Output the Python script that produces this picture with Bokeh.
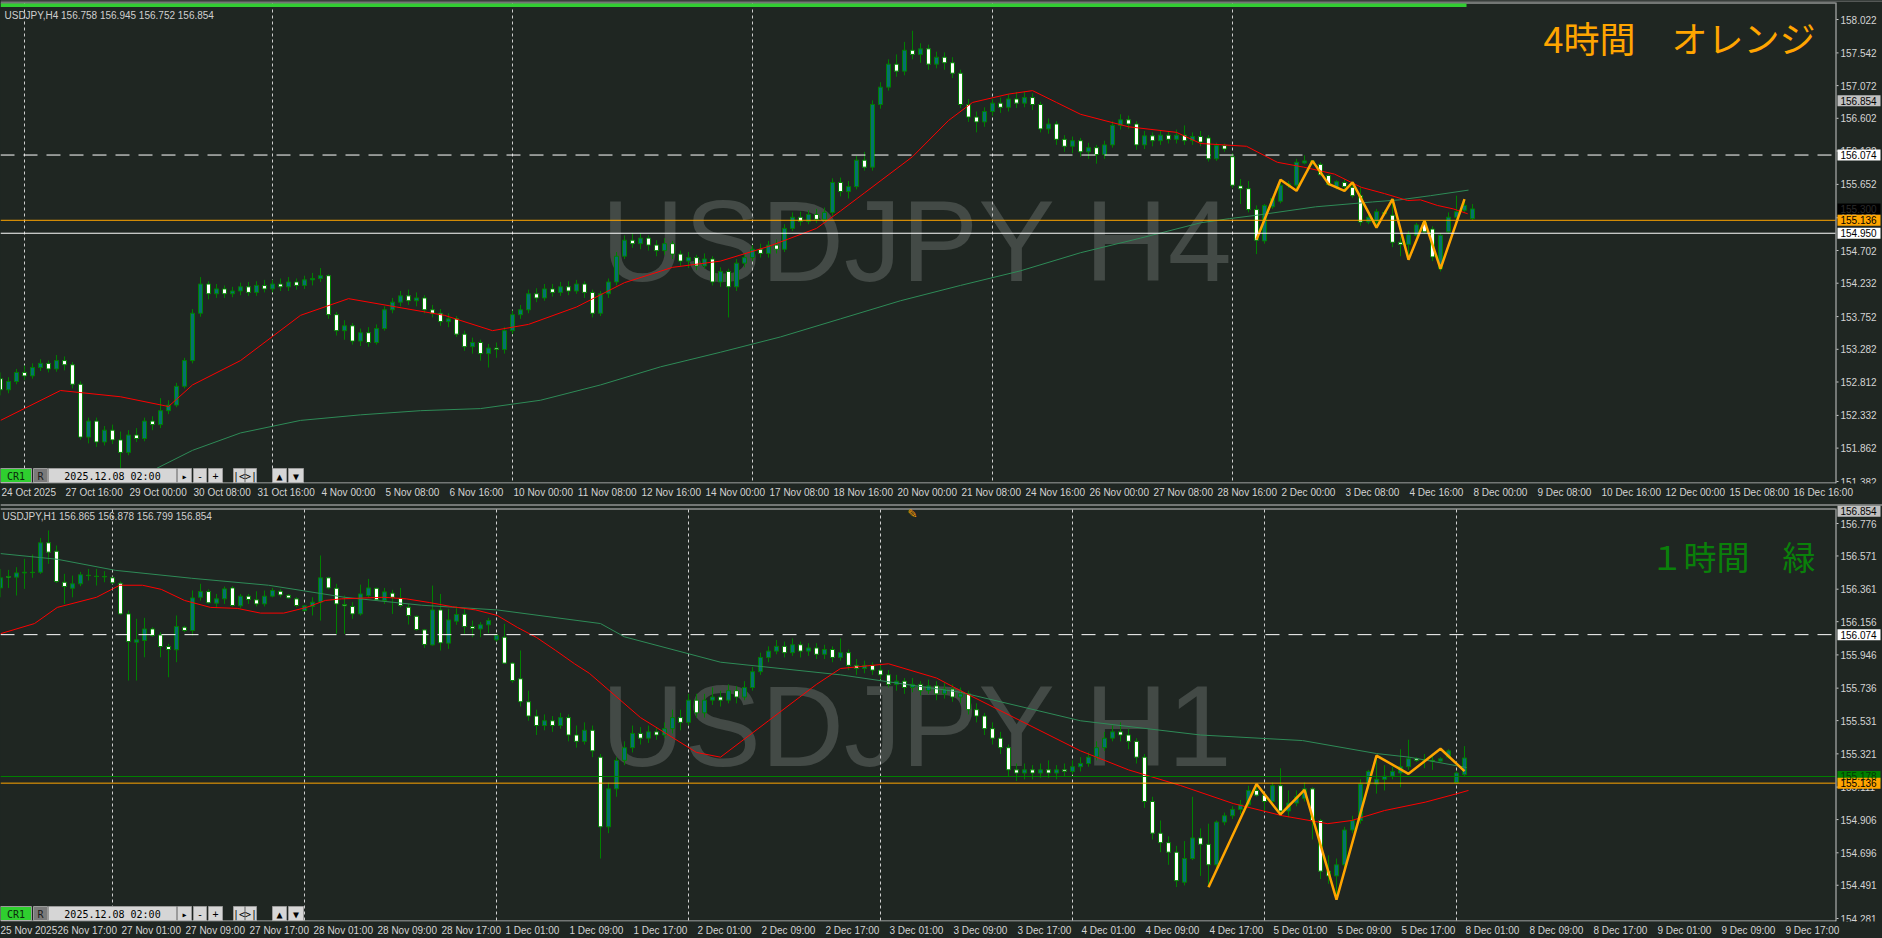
from bokeh.plotting import figure
from bokeh.models import Range1d, FixedTicker, Span, ColumnDataSource
from bokeh.layouts import column
from bokeh.embed import file_html
from bokeh.resources import INLINE
from bokeh.core.properties import value

BG = "#1f2622"
AX = "#c8c8c8"
TXT = "#d4d4d4"
FONT = "Liberation Sans"
CJK = "Noto Sans CJK JP"
WICK = "#008000"
BULL = "#067070"
BEAR = "#ffffff"

# ================= H4 (USDJPY,H4) bars 0..184, bar 0 = 24 Oct 12:00 =================
h4_open = [152.86, 152.70, 152.82, 152.95, 152.90, 153.02, 153.08, 153.00, 153.12, 153.06,
           152.78, 152.02, 152.25, 151.95, 152.12, 151.98, 151.80, 152.05, 152.00, 152.25,
           152.20, 152.40, 152.48, 152.75, 153.12, 153.80, 154.22, 154.08, 154.15, 154.08,
           154.12, 154.18, 154.10, 154.20, 154.15, 154.22, 154.18, 154.25, 154.20, 154.28,
           154.30, 154.34, 153.78, 153.55, 153.62, 153.40, 153.52, 153.38, 153.58, 153.85,
           153.96, 154.05, 153.98, 154.02, 153.85, 153.80, 153.68, 153.72, 153.50, 153.32,
           153.38, 153.22, 153.30, 153.28, 153.55, 153.78, 153.85, 154.08, 154.02, 154.15,
           154.10, 154.18, 154.12, 154.22, 154.10, 153.80, 154.08, 154.25, 154.62, 154.85,
           154.80, 154.88, 154.78, 154.70, 154.80, 154.65, 154.55, 154.60, 154.48, 154.58,
           154.25, 154.40, 154.18, 154.52, 154.60, 154.72, 154.66, 154.78, 154.72, 155.02,
           155.18, 155.12, 155.22, 155.15, 155.25, 155.68, 155.55, 155.62, 156.00, 155.90,
           156.80, 157.05, 157.38, 157.28, 157.58, 157.52, 157.60, 157.38, 157.48, 157.40,
           157.25, 156.80, 156.62, 156.55, 156.70, 156.82, 156.76, 156.88, 156.82, 156.90,
           156.80, 156.45, 156.52, 156.30, 156.20, 156.28, 156.12, 156.18, 156.08, 156.22,
           156.50, 156.58, 156.52, 156.22, 156.35, 156.28, 156.36, 156.30, 156.36, 156.28,
           156.34, 156.32, 156.02, 156.21, 156.05, 155.63, 155.59, 155.29, 154.84, 155.33,
           155.41, 155.64, 155.64, 155.96, 155.99, 155.94, 155.78, 155.61, 155.68, 155.61,
           155.49, 155.11, 155.12, 155.25, 155.21, 154.82, 154.79, 154.92, 155.10, 155.01,
           154.44, 154.97, 155.18, 155.28, 155.16]
h4_high = [152.95, 152.88, 153.00, 153.05, 153.08, 153.14, 153.12, 153.20, 153.18, 153.10,
           152.82, 152.30, 152.30, 152.18, 152.20, 152.10, 152.12, 152.15, 152.30, 152.32,
           152.58, 152.55, 152.80, 153.16, 153.86, 154.32, 154.26, 154.22, 154.20, 154.18,
           154.24, 154.25, 154.26, 154.28, 154.28, 154.30, 154.32, 154.30, 154.34, 154.38,
           154.45, 154.36, 153.82, 153.70, 153.66, 153.58, 153.60, 153.64, 153.90, 154.02,
           154.12, 154.14, 154.10, 154.06, 153.92, 153.86, 153.80, 153.76, 153.55, 153.45,
           153.42, 153.36, 153.38, 153.60, 153.84, 153.92, 154.14, 154.16, 154.22, 154.22,
           154.25, 154.26, 154.28, 154.26, 154.14, 154.12, 154.30, 154.68, 154.92, 154.95,
           154.95, 154.92, 154.85, 154.88, 154.84, 154.70, 154.68, 154.64, 154.66, 154.62,
           154.46, 154.44, 154.58, 154.66, 154.78, 154.80, 154.84, 154.86, 155.08, 155.25,
           155.26, 155.28, 155.30, 155.32, 155.74, 155.75, 155.70, 156.06, 156.12, 156.86,
           157.12, 157.45, 157.52, 157.70, 157.86, 157.68, 157.66, 157.56, 157.55, 157.48,
           157.30, 156.88, 156.70, 156.76, 156.88, 156.90, 156.95, 156.98, 156.98, 156.96,
           156.84, 156.60, 156.56, 156.36, 156.34, 156.32, 156.25, 156.22, 156.28, 156.56,
           156.66, 156.64, 156.56, 156.42, 156.40, 156.42, 156.42, 156.44, 156.50, 156.40,
           156.42, 156.36, 156.25, 156.24, 156.10, 155.73, 155.70, 155.35, 155.37, 155.48,
           155.72, 155.70, 156.02, 156.07, 156.00, 155.97, 155.80, 155.71, 155.73, 155.68,
           155.61, 155.22, 155.30, 155.28, 155.44, 154.90, 154.98, 155.10, 155.13, 155.05,
           154.95, 155.25, 155.49, 155.44, 155.37]
h4_low = [152.62, 152.65, 152.78, 152.84, 152.86, 152.97, 152.95, 152.96, 152.98, 152.72,
          151.98, 151.93, 151.88, 151.90, 151.92, 151.57, 151.76, 151.95, 151.96, 152.12,
          152.15, 152.35, 152.45, 152.72, 153.08, 153.75, 154.00, 154.02, 154.02, 154.03,
          154.06, 154.05, 154.05, 154.10, 154.10, 154.12, 154.12, 154.14, 154.15, 154.20,
          154.25, 153.72, 153.48, 153.42, 153.35, 153.33, 153.32, 153.35, 153.55, 153.80,
          153.90, 153.92, 153.90, 153.80, 153.74, 153.62, 153.60, 153.46, 153.26, 153.22,
          153.12, 153.02, 153.16, 153.22, 153.50, 153.72, 153.80, 153.96, 153.98, 154.04,
          154.05, 154.06, 154.08, 154.02, 153.74, 153.76, 154.02, 154.20, 154.58, 154.74,
          154.72, 154.70, 154.62, 154.64, 154.58, 154.48, 154.45, 154.42, 154.44, 154.20,
          154.18, 153.74, 154.12, 154.46, 154.55, 154.60, 154.60, 154.66, 154.68, 154.98,
          155.06, 155.08, 155.10, 155.10, 155.20, 155.48, 155.45, 155.58, 155.85, 155.85,
          156.74, 157.00, 157.20, 157.22, 157.45, 157.40, 157.30, 157.32, 157.30, 157.18,
          156.75, 156.55, 156.40, 156.48, 156.64, 156.68, 156.70, 156.75, 156.76, 156.72,
          156.40, 156.38, 156.22, 156.12, 156.10, 156.05, 156.02, 155.95, 156.02, 156.18,
          156.44, 156.45, 156.15, 156.16, 156.20, 156.22, 156.24, 156.24, 156.22, 156.22,
          156.20, 155.98, 155.99, 156.12, 155.60, 155.37, 155.25, 154.65, 154.80, 155.30,
          155.38, 155.60, 155.56, 155.94, 155.93, 155.77, 155.63, 155.58, 155.56, 155.46,
          155.06, 155.08, 155.03, 155.20, 154.75, 154.62, 154.57, 154.90, 154.94, 154.55,
          154.40, 154.95, 155.15, 155.25, 155.14]
h4_close = [152.70, 152.82, 152.95, 152.90, 153.02, 153.08, 153.00, 153.12, 153.06, 152.78,
            152.02, 152.25, 151.95, 152.12, 151.98, 151.80, 152.05, 152.00, 152.25, 152.20,
            152.40, 152.48, 152.75, 153.12, 153.80, 154.22, 154.08, 154.15, 154.08, 154.12,
            154.18, 154.10, 154.20, 154.15, 154.22, 154.18, 154.25, 154.20, 154.28, 154.30,
            154.34, 153.78, 153.55, 153.62, 153.40, 153.52, 153.38, 153.58, 153.85, 153.96,
            154.05, 153.98, 154.02, 153.85, 153.80, 153.68, 153.72, 153.50, 153.32, 153.38,
            153.22, 153.30, 153.28, 153.55, 153.78, 153.85, 154.08, 154.02, 154.15, 154.10,
            154.18, 154.12, 154.22, 154.10, 153.80, 154.08, 154.25, 154.62, 154.85, 154.80,
            154.88, 154.78, 154.70, 154.80, 154.65, 154.55, 154.60, 154.48, 154.58, 154.25,
            154.40, 154.18, 154.52, 154.60, 154.72, 154.66, 154.78, 154.72, 155.02, 155.18,
            155.12, 155.22, 155.15, 155.25, 155.68, 155.55, 155.62, 156.00, 155.90, 156.80,
            157.05, 157.38, 157.28, 157.58, 157.52, 157.60, 157.38, 157.48, 157.40, 157.25,
            156.80, 156.62, 156.55, 156.70, 156.82, 156.76, 156.88, 156.82, 156.90, 156.80,
            156.45, 156.52, 156.30, 156.20, 156.28, 156.12, 156.18, 156.08, 156.22, 156.50,
            156.58, 156.52, 156.22, 156.35, 156.28, 156.36, 156.30, 156.36, 156.28, 156.34,
            156.26, 156.02, 156.21, 156.16, 155.64, 155.59, 155.29, 154.85, 155.35, 155.45,
            155.64, 155.66, 155.97, 155.99, 155.97, 155.79, 155.65, 155.69, 155.62, 155.49,
            155.11, 155.18, 155.26, 155.23, 154.82, 154.79, 154.93, 155.07, 154.97, 154.61,
            154.92, 155.18, 155.26, 155.35, 155.30]

h4_red_x = [0, 7.5, 15, 21, 24, 30, 37.5, 43.5, 49.5, 55.5, 61.5, 66, 72, 78, 84, 90, 96, 102, 105, 108,
            114, 118.5, 121.5, 126, 129, 132, 135, 141, 147, 150, 155.75, 159.6, 162.9, 166.75, 170.1,
            173, 175.9, 177.5, 179.6, 181.6, 183.4]
h4_red_y = [152.26, 152.69, 152.60, 152.46, 152.77, 153.12, 153.77, 154.01, 153.89, 153.77, 153.55,
            153.64, 153.89, 154.24, 154.46, 154.55, 154.76, 155.02, 155.27, 155.53, 156.05, 156.57,
            156.83, 156.95, 157.00, 156.83, 156.66, 156.48, 156.40, 156.24, 156.20, 155.97, 155.90,
            155.80, 155.61, 155.52, 155.42, 155.43, 155.35, 155.30, 155.23]
h4_green_x = [19.5, 24, 30, 37.5, 45, 52.5, 60, 67.5, 75, 82.5, 90, 97.5, 105, 112.5, 120, 127.5, 135,
              142.5, 150, 153.6, 157.1, 164.4, 171.5, 174.9, 178.75, 183.5]
h4_green_y = [151.57, 151.83, 152.08, 152.26, 152.34, 152.40, 152.43, 152.55, 152.77, 153.03, 153.24,
              153.46, 153.72, 153.98, 154.20, 154.41, 154.67, 154.88, 155.10, 155.16, 155.21, 155.33,
              155.40, 155.43, 155.49, 155.57]
h4_zz_x = [157, 160, 162, 164, 166, 168, 169, 172, 174, 176, 178, 180, 183]
h4_zz_y = [154.86, 155.72, 155.56, 155.99, 155.66, 155.56, 155.68, 155.03, 155.44, 154.57, 155.13,
           154.44, 155.44]
h4_yticks = [158.022, 157.542, 157.072, 156.602, 156.132, 155.652, 155.172, 154.702, 154.232,
             153.752, 153.282, 152.812, 152.332, 151.862, 151.382]
h4_xtick_bars = [0, 8, 16, 24, 32, 40, 48, 56, 64, 72, 80, 88, 96, 104, 112, 120, 128, 136, 144, 152,
                 160, 168, 176, 184, 192, 200, 208, 216, 224]
h4_xtick_labels = ["24 Oct 2025", "27 Oct 16:00", "29 Oct 00:00", "30 Oct 08:00", "31 Oct 16:00",
                   "4 Nov 00:00", "5 Nov 08:00", "6 Nov 16:00", "10 Nov 00:00", "11 Nov 08:00",
                   "12 Nov 16:00", "14 Nov 00:00", "17 Nov 08:00", "18 Nov 16:00", "20 Nov 00:00",
                   "21 Nov 08:00", "24 Nov 16:00", "26 Nov 00:00", "27 Nov 08:00", "28 Nov 16:00",
                   "2 Dec 00:00", "3 Dec 08:00", "4 Dec 16:00", "8 Dec 00:00", "9 Dec 08:00",
                   "10 Dec 16:00", "12 Dec 00:00", "15 Dec 08:00", "16 Dec 16:00"]
h4_separators = [3, 34, 64, 94, 124, 154]
h4_hlines = [156.074, 155.136, 154.950]
h4_hline_colors = ["#ffffff", "#ffa500", "#ffffff"]
h4_hline_dash = ["14 9", "solid", "solid"]
h4_tag_prices = [156.854, 156.074, 155.300, 155.136, 154.950]
h4_tag_texts = ["156.854", "156.074", "155.300", "155.136", "154.950"]
h4_tag_bg = ["#c0c0c0", "#ffffff", "#000000", "#ffa500", "#ffffff"]
h4_tag_fg = ["#000000", "#000000", "#2a2a2a", "#000000", "#000000"]

# ================= H1 (USDJPY,H1) bars 0..183, bar 0 = 26 Nov 10:00 =================
h1_open = [156.369, 156.441, 156.437, 156.464, 156.468, 156.468, 156.654, 156.601, 156.405, 156.367,
           156.395, 156.449, 156.443, 156.441, 156.433, 156.399, 156.205, 156.026, 156.037, 156.110,
           156.072, 155.999, 155.978, 156.121, 156.100, 156.310, 156.346, 156.273, 156.300, 156.369,
           156.256, 156.317, 156.294, 156.268, 156.317, 156.348, 156.323, 156.300, 156.226, 156.252,
           156.279, 156.433, 156.367, 156.264, 156.252, 156.205, 156.321, 156.367, 156.289, 156.336,
           156.304, 156.247, 156.190, 156.104, 156.009, 156.230, 156.020, 156.159, 156.203, 156.125,
           156.110, 156.136, 156.041, 156.058, 155.894, 155.795,
           155.65, 155.56, 155.50, 155.53, 155.50, 155.55, 155.44, 155.40, 155.47, 155.30,
           154.86, 155.10, 155.28, 155.36, 155.45, 155.42, 155.46, 155.44, 155.48, 155.55,
           155.52, 155.66, 155.58, 155.66, 155.68, 155.66, 155.72, 155.68, 155.74, 155.84,
           155.93, 155.97, 156.00, 155.96, 156.01, 155.97, 155.99, 155.95, 155.98, 155.93,
           155.96, 155.88, 155.86, 155.88, 155.85, 155.82, 155.76, 155.78, 155.74, 155.76,
           155.72, 155.75, 155.70, 155.73, 155.68, 155.70, 155.60, 155.56, 155.48, 155.42,
           155.36, 155.22, 155.20, 155.22, 155.20, 155.22, 155.20, 155.22, 155.21, 155.24,
           155.26, 155.30, 155.36, 155.42, 155.46, 155.44, 155.40, 155.30, 155.02, 154.82,
           154.76, 154.70,
           154.51, 154.66, 154.79, 154.75, 154.62, 154.89, 154.93, 154.97, 155.00, 155.09,
           155.06, 155.02, 155.12, 154.96, 155.01, 155.04, 155.10, 154.90, 154.58, 154.55,
           154.62, 154.84, 154.90, 155.13, 155.13, 155.16, 155.18, 155.20, 155.24, 155.29,
           155.28, 155.28, 155.275, 155.30, 155.14, 155.19]
h1_high = [156.489, 156.483, 156.500, 156.553, 156.580, 156.685, 156.732, 156.637, 156.458, 156.447,
           156.470, 156.489, 156.489, 156.475, 156.440, 156.410, 156.226, 156.174, 156.180, 156.120,
           156.089, 156.016, 156.195, 156.130, 156.353, 156.395, 156.360, 156.331, 156.378, 156.380,
           156.331, 156.331, 156.348, 156.353, 156.369, 156.361, 156.330, 156.310, 156.260, 156.310,
           156.574, 156.440, 156.395, 156.321, 156.279, 156.390, 156.426, 156.370, 156.369, 156.357,
           156.369, 156.268, 156.195, 156.110, 156.384, 156.331, 156.237, 156.252, 156.237, 156.163,
           156.153, 156.180, 156.080, 156.142, 155.900, 155.974,
           155.72, 155.60, 155.57, 155.56, 155.58, 155.57, 155.50, 155.52, 155.50, 155.32,
           155.14, 155.30, 155.40, 155.50, 155.49, 155.50, 155.49, 155.52, 155.60, 155.60,
           155.70, 155.70, 155.70, 155.74, 155.72, 155.76, 155.75, 155.78, 155.87, 155.96,
           156.00, 156.04, 156.03, 156.05, 156.03, 156.02, 156.02, 156.01, 156.00, 156.05,
           155.98, 155.92, 155.91, 155.90, 155.88, 155.85, 155.82, 155.80, 155.80, 155.78,
           155.79, 155.78, 155.77, 155.76, 155.74, 155.72, 155.64, 155.58, 155.52, 155.46,
           155.38, 155.26, 155.26, 155.25, 155.26, 155.28, 155.25, 155.26, 155.28, 155.30,
           155.33, 155.40, 155.46, 155.50, 155.52, 155.48, 155.42, 155.32, 155.05, 154.90,
           154.80, 154.74,
           154.77, 155.05, 154.85, 154.88, 154.90, 154.95, 154.99, 155.03, 155.12, 155.13,
           155.07, 155.14, 155.23, 155.09, 155.09, 155.14, 155.11, 154.91, 154.68, 154.66,
           154.86, 154.93, 155.16, 155.22, 155.31, 155.25, 155.24, 155.35, 155.41, 155.30,
           155.32, 155.31, 155.30, 155.35, 155.21, 155.37]
h1_low = [156.310, 156.369, 156.321, 156.363, 156.433, 156.458, 156.521, 156.400, 156.268, 156.310,
          156.380, 156.416, 156.384, 156.405, 156.395, 156.200, 155.784, 155.784, 155.931, 156.060,
          155.931, 155.805, 155.900, 156.090, 156.068, 156.289, 156.270, 156.243, 156.268, 156.250,
          156.243, 156.268, 156.252, 156.252, 156.310, 156.310, 156.300, 156.247, 156.220, 156.195,
          156.163, 156.360, 156.079, 156.079, 156.174, 156.195, 156.310, 156.290, 156.268, 156.205,
          156.247, 156.138, 156.100, 155.990, 156.005, 155.974, 155.984, 156.136, 156.079, 156.058,
          156.058, 156.083, 156.030, 155.889, 155.770, 155.620,
          155.53, 155.44, 155.47, 155.46, 155.48, 155.40, 155.36, 155.38, 155.30, 154.66,
          154.82, 155.05, 155.25, 155.33, 155.38, 155.39, 155.41, 155.42, 155.45, 155.47,
          155.50, 155.55, 155.55, 155.63, 155.62, 155.64, 155.64, 155.66, 155.72, 155.82,
          155.90, 155.95, 155.93, 155.94, 155.93, 155.94, 155.92, 155.92, 155.90, 155.91,
          155.85, 155.82, 155.83, 155.82, 155.79, 155.74, 155.72, 155.70, 155.71, 155.69,
          155.70, 155.66, 155.67, 155.65, 155.64, 155.57, 155.52, 155.44, 155.38, 155.32,
          155.18, 155.15, 155.16, 155.16, 155.17, 155.17, 155.16, 155.18, 155.19, 155.21,
          155.24, 155.28, 155.34, 155.40, 155.40, 155.35, 155.26, 154.98, 154.78, 154.70,
          154.62, 154.48,
          154.49, 154.65, 154.55, 154.48, 154.60, 154.87, 154.91, 154.94, 154.98, 155.05,
          154.96, 155.00, 154.94, 154.92, 154.99, 155.02, 154.78, 154.53, 154.50, 154.40,
          154.59, 154.82, 154.88, 155.10, 155.07, 155.09, 155.16, 155.11, 155.22, 155.27,
          155.23, 155.22, 155.27, 155.29, 155.13, 155.18]
h1_close = [156.433, 156.437, 156.464, 156.468, 156.466, 156.654, 156.595, 156.409, 156.378, 156.395,
            156.452, 156.447, 156.441, 156.439, 156.401, 156.205, 156.030, 156.041, 156.110, 156.068,
            155.999, 155.980, 156.125, 156.100, 156.306, 156.346, 156.275, 156.300, 156.363, 156.258,
            156.317, 156.296, 156.268, 156.317, 156.353, 156.325, 156.306, 156.258, 156.256, 156.279,
            156.433, 156.369, 156.268, 156.256, 156.205, 156.331, 156.369, 156.294, 156.344, 156.310,
            156.258, 156.195, 156.106, 156.012, 156.230, 156.022, 156.167, 156.201, 156.125, 156.112,
            156.136, 156.163, 156.068, 155.894, 155.784, 155.650,
            155.56, 155.50, 155.53, 155.50, 155.55, 155.44, 155.40, 155.47, 155.34, 154.86,
            155.10, 155.28, 155.36, 155.45, 155.42, 155.46, 155.44, 155.48, 155.55, 155.52,
            155.66, 155.58, 155.66, 155.68, 155.66, 155.72, 155.68, 155.74, 155.84, 155.93,
            155.97, 156.00, 155.96, 156.01, 155.97, 155.99, 155.95, 155.98, 155.93, 155.96,
            155.88, 155.86, 155.88, 155.85, 155.82, 155.76, 155.78, 155.74, 155.76, 155.72,
            155.75, 155.70, 155.73, 155.68, 155.70, 155.60, 155.56, 155.48, 155.42, 155.36,
            155.22, 155.20, 155.22, 155.20, 155.22, 155.20, 155.22, 155.21, 155.24, 155.26,
            155.30, 155.36, 155.42, 155.46, 155.44, 155.40, 155.30, 155.02, 154.82, 154.76,
            154.70, 154.52,
            154.66, 154.79, 154.75, 154.62, 154.89, 154.93, 154.97, 155.00, 155.09, 155.06,
            155.02, 155.12, 154.96, 155.01, 155.05, 155.10, 154.90, 154.58, 154.55, 154.62,
            154.84, 154.90, 155.13, 155.21, 155.16, 155.18, 155.21, 155.24, 155.29, 155.28,
            155.28, 155.275, 155.29, 155.34, 155.20, 155.295]

h1_red_x = [0, 4.25, 7.1, 12, 14.9, 17.75, 20.1, 23, 26.25, 29.6, 32.5, 35.4, 38.25, 40.6, 42.6, 47.9,
            50.75, 53.6, 56.5, 59.4, 62.1, 64.6, 67, 69.4, 71.75, 73.6, 80, 87, 90, 96, 102, 105, 111,
            117, 120, 127.5, 135, 141, 147.5, 154.1, 160.25, 165.9, 168.9, 173, 178.1, 182.1, 183.5]
h1_red_y = [156.08, 156.144, 156.246, 156.31, 156.386, 156.386, 156.36, 156.29, 156.246, 156.24, 156.21,
            156.21, 156.246, 156.29, 156.30, 156.31, 156.30, 156.277, 156.25, 156.23, 156.195, 156.12,
            156.056, 155.974, 155.89, 155.83, 155.55, 155.33, 155.30, 155.53, 155.76, 155.86, 155.89,
            155.80, 155.72, 155.53, 155.34, 155.22, 155.121, 155.007, 154.93, 154.88, 154.90, 154.963,
            155.016, 155.07, 155.09]
h1_green_x = [0, 7.1, 14.4, 23.9, 33.5, 43, 52.6, 62.1, 75, 78, 90, 105, 120, 135, 150, 162.75, 172,
              176.1, 183.25]
h1_green_y = [156.586, 156.55, 156.48, 156.43, 156.386, 156.31, 156.26, 156.23, 156.144, 156.06, 155.90,
              155.82, 155.71, 155.53, 155.44, 155.405, 155.323, 155.30, 155.235]
h1_zz_x = [151, 157, 160, 163, 167, 172, 176, 180, 183]
h1_zz_y = [154.479, 155.13, 154.938, 155.094, 154.40, 155.31, 155.195, 155.353, 155.212]
h1_yticks = [156.776, 156.571, 156.361, 156.156, 155.946, 155.736, 155.531, 155.321, 155.111, 154.906,
             154.696, 154.491, 154.281]
h1_xtick_bars = [-0.75, 7, 15, 23, 31, 39, 47, 55, 63, 71, 79, 87, 95, 103, 111, 119, 127, 135, 143, 151,
                 159, 167, 175, 183, 191, 199, 207, 215, 223]
h1_xtick_labels = ["25 Nov 2025", "26 Nov 17:00", "27 Nov 01:00", "27 Nov 09:00", "27 Nov 17:00",
                   "28 Nov 01:00", "28 Nov 09:00", "28 Nov 17:00", "1 Dec 01:00", "1 Dec 09:00",
                   "1 Dec 17:00", "2 Dec 01:00", "2 Dec 09:00", "2 Dec 17:00", "3 Dec 01:00",
                   "3 Dec 09:00", "3 Dec 17:00", "4 Dec 01:00", "4 Dec 09:00", "4 Dec 17:00",
                   "5 Dec 01:00", "5 Dec 09:00", "5 Dec 17:00", "8 Dec 01:00", "8 Dec 09:00",
                   "8 Dec 17:00", "9 Dec 01:00", "9 Dec 09:00", "9 Dec 17:00"]
h1_separators = [14, 38, 62, 86, 110, 134, 158, 182]
h1_hlines = [156.074, 155.178, 155.136]
h1_hline_colors = ["#ffffff", "#008000", "#ffa500"]
h1_hline_dash = ["14 9", "solid", "solid"]
h1_tag_prices = [156.854, 156.074, 155.178, 155.136]
h1_tag_texts = ["156.854", "156.074", "155.178", "155.136"]
h1_tag_bg = ["#c0c0c0", "#ffffff", "#008000", "#ffa500"]
h1_tag_fg = ["#000000", "#000000", "#053805", "#000000"]

PAGE_W = 1882
CHART_W = 1835
XEND = CHART_W / 8          # right edge of the bar area, in bar units
AXFS = "10px"
xd = lambda px: px / 8      # page pixel -> bar units (8 px per bar)

# Arial/Liberation Sans advance widths (per 1000 em) used to left-align the time labels on their bar
ADV = {" ": 278, ":": 278, "O": 778, "c": 500, "t": 278, "N": 722, "o": 556, "v": 500, "D": 722, "e": 556}


def label_centres(bars, labels, size=10.0, lead=1.0):
    out = []
    for b, s in zip(bars, labels):
        w = sum(ADV.get(ch, 556) for ch in s) * size / 1000.0
        out.append(round(b + (w / 2.0 + lead) / 8.0, 4))
    return out


def panel_fig(height, frame_h, yd, page_top, xbars, xlabels):
    p = figure(frame_width=PAGE_W, frame_height=frame_h,
               x_range=Range1d(0, PAGE_W / 8), y_range=Range1d(yd(page_top + frame_h), yd(page_top)),
               output_backend="svg", toolbar_location=None, y_axis_location=None,
               min_border_left=0, min_border_right=0, min_border_top=0, min_border_bottom=height - frame_h,
               background_fill_color=BG, border_fill_color=BG, outline_line_color=None)
    p.grid.visible = False
    centres = label_centres(xbars, xlabels)
    xa = p.xaxis[0]
    xa.ticker = FixedTicker(ticks=centres)
    xa.major_label_overrides = {c: t for c, t in zip(centres, xlabels)}
    xa.axis_line_color = None
    xa.major_tick_line_color = None
    xa.minor_tick_line_color = None
    xa.major_tick_in = 0
    xa.major_tick_out = 0
    xa.major_label_text_color = TXT
    xa.major_label_text_font = FONT
    xa.major_label_text_font_size = AXFS
    xa.major_label_standoff = 3
    return p


def price_axis(p, yd, frame_top_px, frame_bot_px, ticks, tprices, ttexts, tbg, tfg, xticks_bars):
    # bottom time-axis line and small tick marks, right frame border
    p.segment(x0=[0], y0=[yd(frame_bot_px - 0.5)], x1=[xd(CHART_W + 0.5)], y1=[yd(frame_bot_px - 0.5)],
              line_color=AX, line_width=1)
    p.segment(x0=[xd(CHART_W + 0.5)], y0=[yd(frame_top_px)], x1=[xd(CHART_W + 0.5)], y1=[yd(frame_bot_px)],
              line_color=AX, line_width=1)
    n = len(ticks)
    p.segment(x0=[xd(CHART_W + 1)] * n, y0=ticks, x1=[xd(CHART_W + 3)] * n, y1=ticks,
              line_color=AX, line_width=1)
    p.text(x=[xd(CHART_W + 5)] * n, y=ticks, text=["%.3f" % t for t in ticks], text_font=value(FONT),
           text_font_size=AXFS, text_color=TXT, text_baseline="middle", text_align="left")
    half = yd(0) - yd(5.5)
    m = len(tprices)
    p.quad(left=[xd(CHART_W + 2)] * m, right=[xd(CHART_W + 45)] * m, top=[pr + half for pr in tprices],
           bottom=[pr - half for pr in tprices], fill_color=tbg, line_color=None)
    p.text(x=[xd(CHART_W + 5)] * m, y=tprices, text=ttexts, text_font=value(FONT), text_font_size=AXFS,
           text_color=tfg, text_baseline="middle", text_align="left")


def draw_candles(p, o, h, l, c):
    src = ColumnDataSource(dict(
        x=list(range(len(o))), o=o, h=h, l=l, c=c,
        top=[max(a, b) for a, b in zip(o, c)],
        bot=[min(a, b) for a, b in zip(o, c)],
        fill=[BULL if cc > oo else BEAR for oo, cc in zip(o, c)]))
    p.segment(x0="x", y0="l", x1="x", y1="h", source=src, line_color=WICK, line_width=1)
    p.vbar(x="x", width=0.5, top="top", bottom="bot", source=src, fill_color="fill",
           line_color=WICK, line_width=1)


def separators(p, yd, bars, top_px, bot_px):
    n = len(bars)
    p.segment(x0=bars, y0=[yd(top_px)] * n, x1=bars, y1=[yd(bot_px)] * n,
              line_color="#cfcfcf", line_dash="3 3", line_width=1)


def hlines(p, prices, colors, dashes):
    for pr, col, d in zip(prices, colors, dashes):
        p.segment(x0=[0], y0=[pr], x1=[XEND], y1=[pr], line_color=col, line_dash=d, line_width=1)


def control_panel(p, yd, ytop, ybot):
    items = [(0, 31, "#2fcf2f", "CR1", "#0c2a0c"), (33, 47, "#7a7a7a", "R", "#1a1a1a"),
             (48, 176, "#d6d6d6", "2025.12.08 02:00", "#000000"), (177, 191, "#d6d6d6", "▸", "#000000"),
             (193, 206, "#d6d6d6", "-", "#000000"), (208, 222, "#d6d6d6", "+", "#000000"),
             (233, 244, "#d6d6d6", "|<", "#000000"), (245, 256, "#d6d6d6", ">|", "#000000"),
             (272, 286, "#d6d6d6", "▲", "#000000"), (288, 303, "#d6d6d6", "▼", "#000000")]
    p.quad(left=[xd(a) for a, *_ in items], right=[xd(b) for _, b, *_ in items],
           top=[yd(ytop)] * len(items), bottom=[yd(ybot)] * len(items),
           fill_color=[it[2] for it in items], line_color="#9a9a9a", line_width=1)
    p.text(x=[xd((it[0] + it[1]) / 2) for it in items], y=[yd((ytop + ybot) / 2 + 0.5)] * len(items),
           text=[it[3] for it in items], text_color=[it[4] for it in items],
           text_font=value("DejaVu Sans Mono"), text_font_size="10px", text_align="center",
           text_baseline="middle")


# ---------------- top panel (H4): page y 0..500, frame 0..483 ----------------
t_yd = lambda py: 158.022 - (py - 19) / 69.58
top = panel_fig(500, 483, t_yd, 0, h4_xtick_bars, h4_xtick_labels)
top.text(x=[xd(917)], y=[t_yd(240)], text=["USDJPY H4"], text_font=value(FONT), text_font_size="115px",
         text_color="#434a46", text_align="center", text_baseline="middle")
separators(top, t_yd, h4_separators, 3, 483)
draw_candles(top, h4_open, h4_high, h4_low, h4_close)
top.line(h4_green_x, h4_green_y, line_color="#2e8b57", line_width=1)
top.line(h4_red_x, h4_red_y, line_color="#ff0000", line_width=1)
top.line(h4_zz_x, h4_zz_y, line_color="#ffa500", line_width=2.5)
hlines(top, h4_hlines, h4_hline_colors, h4_hline_dash)
top.add_layout(Span(location=t_yd(0.5), dimension="width", line_color="#8a8a8a", line_width=1))
top.segment(x0=[0], y0=[t_yd(2.5)], x1=[XEND], y1=[t_yd(2.5)], line_color=AX, line_width=1)
top.quad(left=[0], right=[xd(1466)], top=[t_yd(3)], bottom=[t_yd(6.5)], fill_color="#32cd32", line_color=None)
top.text(x=[xd(4)], y=[t_yd(15)], text=["USDJPY,H4  156.758 156.945 156.752 156.854"],
         text_font=value(FONT), text_font_size="10px", text_color="#cfcfcf", text_baseline="middle")
top.text(x=[xd(1815)], y=[t_yd(36)], text=["4時間　オレンジ"], text_font=value(CJK), text_font_size="36px",
         text_color="#ffa500", text_align="right", text_baseline="middle")
control_panel(top, t_yd, 468, 482)
price_axis(top, t_yd, 2, 483, h4_yticks, h4_tag_prices, h4_tag_texts, h4_tag_bg, h4_tag_fg, h4_xtick_bars)

# ---------------- bottom panel (H1): page y 500..938, frame 500..921 ----------------
b_yd = lambda py: 156.776 - (py - 523) / 158.32
bot = panel_fig(438, 421, b_yd, 500, h1_xtick_bars, h1_xtick_labels)
bot.text(x=[xd(917)], y=[b_yd(725)], text=["USDJPY H1"], text_font=value(FONT), text_font_size="115px",
         text_color="#434a46", text_align="center", text_baseline="middle")
separators(bot, b_yd, h1_separators, 509, 921)
draw_candles(bot, h1_open, h1_high, h1_low, h1_close)
bot.line(h1_green_x, h1_green_y, line_color="#2e8b57", line_width=1)
bot.line(h1_red_x, h1_red_y, line_color="#ff0000", line_width=1)
bot.line(h1_zz_x, h1_zz_y, line_color="#ffa500", line_width=2.5)
hlines(bot, h1_hlines, h1_hline_colors, h1_hline_dash)
bot.add_layout(Span(location=b_yd(504.5), dimension="width", line_color=AX, line_width=1))
bot.segment(x0=[0], y0=[b_yd(508.5)], x1=[XEND], y1=[b_yd(508.5)], line_color=AX, line_width=1)
bot.text(x=[xd(2)], y=[b_yd(516)], text=["USDJPY,H1  156.865 156.878 156.799 156.854"],
         text_font=value(FONT), text_font_size="10px", text_color="#cfcfcf", text_baseline="middle")
bot.text(x=[xd(1815)], y=[b_yd(555)], text=["１時間　緑"], text_font=value(CJK), text_font_size="33px",
         text_color="#0a800a", text_align="right", text_baseline="middle")
bot.text(x=[xd(912)], y=[b_yd(513)], text=["✎"], text_font=value("DejaVu Sans"), text_font_size="12px",
         text_color="#ffa500", text_align="center", text_baseline="middle")
control_panel(bot, b_yd, 906, 920)
price_axis(bot, b_yd, 508, 921, h1_yticks, h1_tag_prices, h1_tag_texts, h1_tag_bg, h1_tag_fg, h1_xtick_bars)

layout = column(top, bot, spacing=0)
layout.styles = {"background-color": BG}
open("out.html", "w").write(file_html(layout, INLINE))
